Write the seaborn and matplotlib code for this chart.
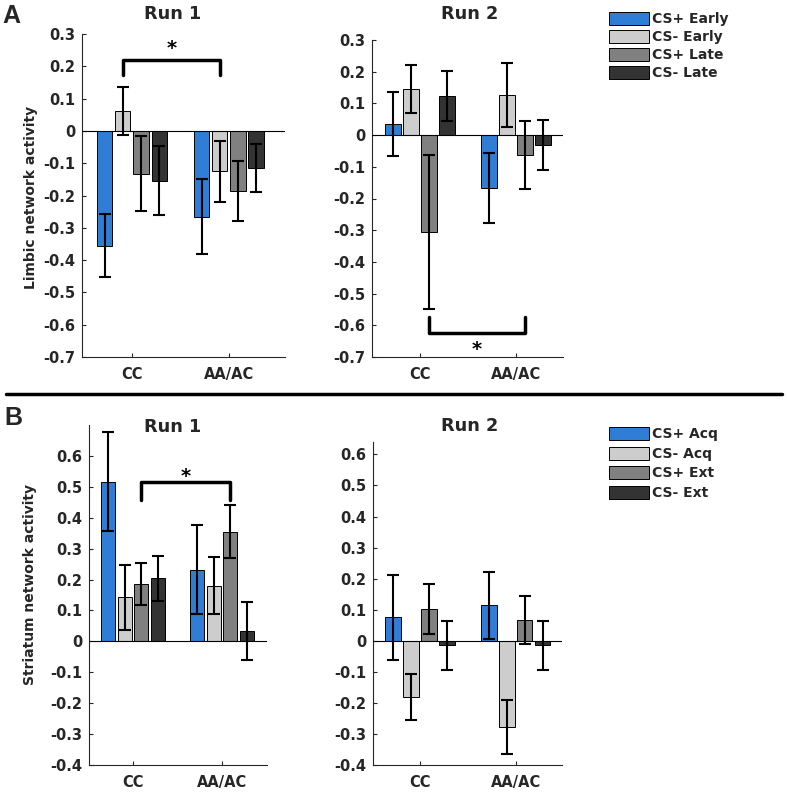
import numpy as np
import pandas as pd
import matplotlib.pyplot as plt
from matplotlib.lines import Line2D
import seaborn as sns

# Groups and conditions
groups = ["CC", "AA/AC"]
limbic_conds = ["CS+ Early", "CS- Early", "CS+ Late", "CS- Late"]
striatum_conds = ["CS+ Acq", "CS- Acq", "CS+ Ext", "CS- Ext"]
bar_colors = ["#2f7dd4", "#cdcdcd", "#808080", "#333333"]

# rows = groups (CC, AA/AC), columns = conditions
limbic_run1_mean = [[-0.355, 0.062, -0.132, -0.154], [-0.266, -0.125, -0.186, -0.116]]
limbic_run1_err = [[0.098, 0.074, 0.117, 0.107], [0.116, 0.095, 0.092, 0.074]]
limbic_run2_mean = [[0.035, 0.146, -0.305, 0.123], [-0.168, 0.126, -0.062, -0.030]]
limbic_run2_err = [[0.100, 0.075, 0.243, 0.078], [0.110, 0.100, 0.108, 0.079]]

striatum_run1_mean = [[0.517, 0.143, 0.185, 0.204], [0.232, 0.180, 0.355, 0.033]]
striatum_run1_err = [[0.159, 0.105, 0.067, 0.072], [0.143, 0.092, 0.085, 0.093]]
striatum_run2_mean = [[0.076, -0.181, 0.102, -0.015], [0.115, -0.278, 0.066, -0.015]]
striatum_run2_err = [[0.137, 0.074, 0.080, 0.080], [0.108, 0.087, 0.078, 0.080]]

sns.set_style("ticks")
plt.rcParams["font.family"] = ["DejaVu Sans"]
plt.rcParams["font.weight"] = "bold"
plt.rcParams["axes.labelweight"] = "bold"
plt.rcParams["axes.unicode_minus"] = False

W, H = 787, 794
fig = plt.figure(figsize=(W / 100, H / 100), dpi=100)


def px_axes(left, right, top, bottom):
    return fig.add_axes([left / W, 1 - bottom / H, (right - left) / W, (bottom - top) / H])


def make_df(means, conds):
    rows = []
    for gi, g in enumerate(groups):
        for ci, c in enumerate(conds):
            rows.append({"group": g, "cond": c, "value": means[gi][ci]})
    return pd.DataFrame(rows)


def draw_panel(ax, means, errs, conds, ylim, xlim, yticks, show_legend):
    df = make_df(means, conds)
    sns.barplot(data=df, x="group", y="value", hue="cond", order=groups, hue_order=conds,
                palette=bar_colors, saturation=1, width=0.75, gap=0.16,
                edgecolor="black", linewidth=0.7, errorbar=None, legend=show_legend, ax=ax)

    # bar centres, grouped by category and sorted left to right (= hue order)
    bars = [b for cont in ax.containers for b in cont]
    centers = np.zeros((len(groups), len(conds)))
    for gi in range(len(groups)):
        xs = sorted(b.get_x() + b.get_width() / 2 for b in bars
                    if round(b.get_x() + b.get_width() / 2) == gi)
        centers[gi] = xs

    ax.errorbar(centers.ravel(), np.ravel(means), yerr=np.ravel(errs), fmt="none",
                ecolor="black", elinewidth=1.5, capsize=4, capthick=1.5, zorder=5)
    ax.axhline(0, color="black", lw=0.8, zorder=4)

    ax.set_xlim(*xlim)
    ax.set_ylim(*ylim)
    ax.set_yticks(yticks)
    ax.set_yticklabels([f"{t + 0.0:g}" for t in yticks])
    ax.set_xlabel("")
    ax.set_ylabel("")
    sns.despine(ax=ax)
    for s in ["left", "bottom"]:
        ax.spines[s].set_color("#262626")
        ax.spines[s].set_linewidth(0.8)
    ax.tick_params(direction="in", length=3, width=0.8, colors="#262626", labelsize=10.5)
    ax.tick_params(axis="x", pad=7)
    ax.tick_params(axis="y", pad=5)
    return centers


def bracket(ax, x1, x2, y_bar, y_leg, y_star):
    ax.plot([x1, x1, x2, x2], [y_leg, y_bar, y_bar, y_leg], color="black", lw=2.5,
            solid_joinstyle="round", clip_on=False, zorder=6)
    ax.text((x1 + x2) / 2, y_star, "*", ha="center", va="center", fontsize=14,
            fontweight="bold", color="black")


def move_legend(ax, anchor_y, spacing):
    leg = ax.get_legend()
    handles = leg.legend_handles
    labels = [t.get_text() for t in leg.get_texts()]
    leg.remove()
    fig.legend(handles, labels, loc="upper left", bbox_to_anchor=(609 / W, 1 - anchor_y / H),
               frameon=False, fontsize=10, borderpad=0, borderaxespad=0,
               handlelength=2.9, handleheight=1.1, handletextpad=0.2, labelspacing=spacing)


ticks_a = np.round(np.arange(-0.7, 0.31, 0.1), 1)
ticks_b = np.round(np.arange(-0.4, 0.61, 0.1), 1)

# Panel A: limbic network
ax1 = px_axes(82, 285, 34, 357)
c1 = draw_panel(ax1, limbic_run1_mean, limbic_run1_err, limbic_conds, (-0.7, 0.3), (-0.515, 1.58), ticks_a, True)
ax1.set_ylabel("Limbic network activity", fontsize=10)
ax1.yaxis.set_label_coords((38 - 82) / 203, 0.495)
bracket(ax1, c1[0, 1], c1[1, 1], 0.219, 0.174, 0.255)
move_legend(ax1, 12, 0.26)

ax2 = px_axes(372, 563, 40, 357)
c2 = draw_panel(ax2, limbic_run2_mean, limbic_run2_err, limbic_conds, (-0.7, 0.3), (-0.5, 1.49), ticks_a, False)
bracket(ax2, c2[0, 2], c2[1, 2], -0.625, -0.575, -0.677)

# Panel B: striatum network
ax3 = px_axes(89, 267, 425, 765)
c3 = draw_panel(ax3, striatum_run1_mean, striatum_run1_err, striatum_conds, (-0.4, 0.7), (-0.494, 1.506), ticks_b, True)
ax3.set_ylabel("Striatum network activity", fontsize=10)
ax3.yaxis.set_label_coords((37 - 89) / 178, 0.53)
bracket(ax3, c3[0, 2], c3[1, 2], 0.514, 0.457, 0.532)
move_legend(ax3, 427, 0.37)

ax4 = px_axes(373, 562, 442, 765)
draw_panel(ax4, striatum_run2_mean, striatum_run2_err, striatum_conds, (-0.4, 0.64), (-0.49, 1.48), ticks_b, False)

# titles and panel letters
for x, y, t in [(173, 14, "Run 1"), (470, 14, "Run 2"), (173, 427, "Run 1"), (470, 426, "Run 2")]:
    fig.text(x / W, 1 - y / H, t, ha="center", va="center", fontsize=12.7, fontweight="bold")
fig.text(11 / W, 1 - 16 / H, "A", ha="center", va="center", fontsize=18, fontweight="bold",
         family="Liberation Sans")
fig.text(13 / W, 1 - 418 / H, "B", ha="center", va="center", fontsize=18, fontweight="bold",
         family="Liberation Sans")

# divider between panels
fig.add_artist(Line2D([6 / W, 782 / W], [1 - 394 / H, 1 - 394 / H], color="black", lw=2.5))

fig.savefig("out.png", dpi=100)
